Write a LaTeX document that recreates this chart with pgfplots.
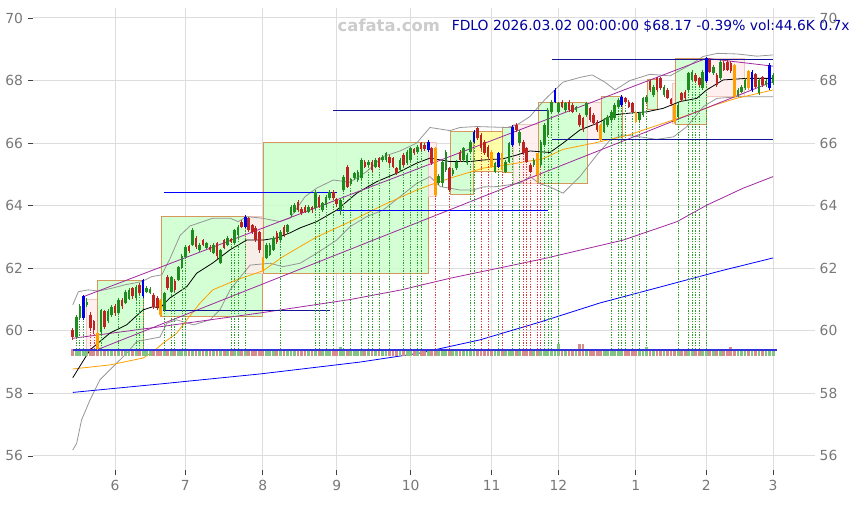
\documentclass[border=0pt]{standalone}
\usepackage{fontspec}
\setmainfont{DejaVu Sans}
\usepackage{pgfplots}
\pgfplotsset{compat=1.18}
\usepackage{pgfplotstable}

\definecolor{cgreen}{RGB}{30,140,30}
\definecolor{cred}{RGB}{190,35,35}
\definecolor{cblue}{RGB}{0,0,230}
\definecolor{corange}{RGB}{255,160,0}
\definecolor{vgreen}{RGB}{130,195,130}
\definecolor{vred}{RGB}{215,140,140}
\definecolor{boxgreen}{RGB}{204,255,204}
\definecolor{boxpink}{RGB}{255,236,236}
\definecolor{boxyellow}{RGB}{255,255,153}
\definecolor{boxedge}{RGB}{215,150,90}
\definecolor{pinkedge}{RGB}{240,200,190}
\definecolor{cpurple}{RGB}{160,40,160}
\definecolor{cgray}{RGB}{150,150,150}
\definecolor{cnavy}{RGB}{20,20,150}
\definecolor{titleblue}{RGB}{0,0,160}
\definecolor{gridgray}{RGB}{221,221,221}
\definecolor{labelgray}{RGB}{120,120,120}
\definecolor{dotgreen}{RGB}{40,160,40}
\definecolor{dotred}{RGB}{220,60,60}

\pgfplotsset{
  body/.style={draw=none, no markers, forget plot, error bars/.cd, y dir=plus, y explicit, error mark=none,
     error bar style={draw=#1, line width=1.95pt, line cap=butt, solid}},
  wick/.style={draw=none, no markers, forget plot, error bars/.cd, y dir=plus, y explicit, error mark=none,
     error bar style={draw=#1, line width=0.6pt, solid}},
  vol/.style={draw=none, no markers, forget plot, error bars/.cd, y dir=plus, y explicit, error mark=none,
     error bar style={draw=#1, line width=2.1pt, line cap=butt, solid}},
  vdot/.style={draw=none, no markers, forget plot, error bars/.cd, y dir=plus, y explicit, error mark=none,
     error bar style={draw=#1, line width=0.55pt, dash pattern=on 1pt off 1pt}},
  box/.style={fill=#1, draw=boxedge, line width=0.75pt, fill opacity=0.85, forget plot},
  pbox/.style={fill=boxpink, draw=pinkedge, line width=0.75pt, fill opacity=0.85, forget plot},
}

% green candles
\pgfplotstableread{
i O H L C V
-11 59.80 60.50 59.75 60.45 0.22
-10 60.40 60.85 60.35 60.80 0.22
-8 60.82 61.05 60.75 60.92 0.22
-4 59.95 60.70 59.90 60.65 0.22
-2 60.30 60.70 60.25 60.62 0.22
-1 60.50 60.82 60.45 60.76 0.22
1 60.57 61.05 60.50 61.00 0.22
3 60.90 61.30 60.85 61.25 0.22
4 61.02 61.38 60.98 61.32 0.22
6 61.05 61.45 61.00 61.40 0.22
9 61.25 61.42 61.20 61.37 0.22
10 61.22 61.40 61.18 61.34 0.22
14 60.68 61.25 60.62 61.20 0.22
16 61.25 61.76 61.20 61.72 0.22
18 61.63 62.08 61.58 62.04 0.22
19 62.01 62.44 61.96 62.40 0.22
20 62.37 62.73 62.32 62.69 0.22
22 62.75 63.28 62.70 63.22 0.22
24 62.58 62.80 62.52 62.75 0.22
26 62.65 62.85 62.60 62.80 0.22
28 62.49 62.80 62.44 62.75 0.22
30 62.17 62.62 62.12 62.58 0.22
32 62.75 63.02 62.70 62.97 0.22
34 62.81 63.27 62.76 63.22 0.22
35 63.06 63.38 63.01 63.33 0.22
43 62.33 62.80 62.28 62.75 0.22
44 62.43 62.80 62.38 62.75 0.22
45 62.59 63.02 62.54 62.97 0.22
47 62.90 63.22 62.85 63.17 0.22
49 63.17 63.43 63.12 63.38 0.22
50 63.70 64.02 63.65 63.97 0.22
51 63.81 64.07 63.76 64.02 0.22
55 63.81 64.02 63.76 63.97 0.22
57 63.92 64.50 63.87 64.45 0.22
59 63.86 64.13 63.80 64.08 0.22
60 64.02 64.34 63.97 64.29 0.22
61 64.24 64.50 64.19 64.45 0.22
64 63.86 64.23 63.70 64.18 0.28
65 64.50 64.98 64.45 64.93 0.22
67 64.70 64.90 64.65 64.85 0.22
68 64.88 65.09 64.83 65.04 0.22
69 64.82 65.14 64.77 65.09 0.22
70 64.88 65.51 64.83 65.46 0.22
72 65.30 65.45 65.25 65.40 0.22
74 65.25 65.51 65.20 65.46 0.22
76 65.46 65.62 65.41 65.57 0.22
77 65.46 65.73 65.41 65.68 0.22
81 65.14 65.51 65.09 65.46 0.22
83 65.36 65.78 65.31 65.73 0.22
84 65.46 65.89 65.41 65.84 0.22
86 65.73 65.94 65.68 65.89 0.22
92 64.72 65.00 64.67 64.95 0.22
93 64.72 65.46 64.60 65.41 0.22
94 65.14 65.78 65.09 65.73 0.22
96 65.00 65.20 64.95 65.15 0.22
97 65.20 65.46 65.15 65.41 0.22
99 65.46 65.89 65.41 65.84 0.22
100 65.36 65.67 65.31 65.62 0.22
101 65.73 66.10 65.68 66.05 0.22
108 65.09 65.41 65.04 65.36 0.22
111 65.09 65.46 65.04 65.41 0.22
112 65.41 66.05 65.36 66.00 0.22
115 65.99 66.42 65.94 66.37 0.22
119 65.30 65.51 65.25 65.46 0.22
121 65.30 66.10 65.25 66.05 0.22
122 65.94 66.63 65.89 66.58 0.22
123 66.26 67.11 66.21 67.06 0.22
124 67.01 67.38 66.96 67.33 0.22
126 67.01 67.32 66.96 67.27 0.38
128 67.06 67.32 67.01 67.27 0.22
131 67.05 67.20 67.00 67.15 0.22
134 66.90 67.32 66.85 67.27 0.22
139 66.37 66.79 66.32 66.74 0.22
140 66.58 66.90 66.53 66.85 0.22
141 66.74 67.06 66.69 67.01 0.22
142 66.80 67.27 66.75 67.22 0.22
143 67.17 67.43 67.12 67.38 0.22
149 66.74 67.01 66.69 66.96 0.22
150 66.90 67.48 66.85 67.43 0.22
151 67.33 67.53 67.28 67.48 0.28
153 67.54 67.86 67.49 67.81 0.22
156 67.54 67.86 67.49 67.81 0.22
160 66.85 67.27 66.80 67.22 0.22
163 67.70 68.28 67.65 68.23 0.22
164 68.02 68.33 67.97 68.28 0.22
167 67.75 68.33 67.70 68.28 0.22
170 68.23 68.49 68.18 68.44 0.22
172 68.07 68.65 68.02 68.60 0.22
177 67.54 67.75 67.49 67.70 0.22
178 67.65 67.86 67.60 67.81 0.22
179 67.75 68.07 67.70 68.02 0.22
183 67.59 68.07 67.54 68.02 0.22
185 67.85 68.05 67.80 68.00 0.22
187 67.91 68.23 67.86 68.17 0.22
}\tG

% red candles
\pgfplotstableread{
i O H L C V
-12 60.03 60.10 59.72 59.80 0.22
-7 60.50 60.60 60.00 60.10 0.22
-6 60.30 60.35 59.90 60.02 0.22
-3 60.62 60.68 60.05 60.12 0.22
0 60.78 60.85 60.48 60.56 0.22
2 61.00 61.05 60.70 60.78 0.22
5 61.36 61.40 61.02 61.10 0.22
7 61.47 61.52 61.15 61.20 0.22
11 61.15 61.20 60.70 60.75 0.22
12 61.05 61.10 60.68 60.75 0.22
15 61.72 61.78 61.30 61.38 0.22
17 61.60 61.65 61.25 61.30 0.22
21 62.70 62.75 62.48 62.55 0.22
23 62.97 63.02 62.62 62.68 0.22
25 62.90 62.95 62.70 62.75 0.22
27 62.69 62.74 62.52 62.58 0.22
29 62.80 62.84 62.30 62.40 0.22
31 62.90 62.95 62.60 62.65 0.22
33 62.92 62.97 62.80 62.85 0.22
36 63.49 63.54 63.28 63.33 0.22
38 63.60 63.65 63.15 63.22 0.22
39 63.38 63.42 63.10 63.17 0.22
40 63.29 63.34 62.85 62.90 0.22
41 63.17 63.20 62.50 62.59 0.22
46 63.13 63.18 62.78 62.84 0.22
48 63.33 63.38 63.00 63.06 0.22
52 64.13 64.18 63.80 63.86 0.22
53 63.90 63.95 63.70 63.75 0.22
54 63.97 64.02 63.76 63.81 0.22
56 63.95 64.00 63.78 63.85 0.22
58 64.29 64.34 63.92 63.97 0.22
62 64.45 64.50 64.19 64.24 0.22
63 64.20 64.25 63.95 64.05 0.22
66 65.25 65.30 64.55 64.61 0.22
71 65.41 65.46 65.20 65.25 0.22
73 65.41 65.46 65.09 65.14 0.22
75 65.52 65.57 65.20 65.25 0.22
78 65.57 65.62 65.31 65.36 0.22
79 65.52 65.57 65.20 65.25 0.22
80 65.20 65.25 64.99 65.04 0.22
82 65.62 65.67 65.25 65.30 0.22
85 65.80 65.85 65.63 65.68 0.22
87 66.00 66.05 65.75 65.80 0.22
88 65.95 66.00 65.75 65.80 0.22
90 65.84 65.89 65.31 65.36 0.22
95 65.20 65.25 64.45 64.50 0.22
98 65.73 65.78 65.41 65.46 0.22
103 66.47 66.52 66.10 66.15 0.22
104 66.26 66.31 65.79 65.84 0.22
105 66.05 66.10 65.63 65.68 0.22
106 65.89 65.94 65.52 65.57 0.22
114 66.58 66.63 66.37 66.42 0.22
116 66.05 66.10 65.63 65.68 0.22
117 65.84 65.89 65.36 65.41 0.22
118 65.30 65.35 65.04 65.09 0.22
127 67.33 67.38 67.12 67.17 0.22
129 67.33 67.38 67.01 67.06 0.22
130 67.22 67.27 66.96 67.01 0.22
132 66.90 66.95 66.53 66.58 0.38
133 66.80 66.85 66.37 66.45 0.38
135 67.11 67.16 66.69 66.74 0.22
136 66.90 66.95 66.58 66.63 0.22
137 66.69 66.74 66.37 66.42 0.22
145 67.43 67.48 67.28 67.33 0.22
146 67.33 67.38 67.12 67.17 0.22
147 67.27 67.32 66.96 67.01 0.22
152 67.97 68.02 67.65 67.70 0.22
154 68.07 68.12 67.65 67.70 0.22
155 68.07 68.12 67.70 67.75 0.22
157 67.70 67.75 67.40 67.45 0.22
158 67.40 67.45 67.20 67.25 0.22
161 67.59 67.64 67.33 67.38 0.22
162 67.65 67.70 67.38 67.43 0.22
165 68.18 68.23 67.92 67.97 0.22
166 68.07 68.12 67.81 67.86 0.22
169 68.66 68.71 68.23 68.28 0.22
171 68.18 68.23 67.81 67.86 0.22
173 68.55 68.62 68.30 68.35 0.22
174 68.60 68.65 68.29 68.34 0.22
175 68.55 68.62 68.25 68.30 0.28
182 68.20 68.25 67.75 67.80 0.22
184 68.10 68.15 67.80 67.85 0.22
}\tR

% blue (signal) candles
\pgfplotstableread{
i O H L C V
-9 60.40 61.15 60.35 61.10 0.22
8 61.10 61.66 61.05 61.62 0.22
37 63.33 63.70 63.28 63.65 0.22
89 65.78 66.10 65.73 66.05 0.22
102 66.05 66.42 66.00 66.37 0.22
109 65.25 65.73 65.20 65.68 0.22
113 65.94 66.58 65.89 66.53 0.22
125 67.33 67.75 67.28 67.70 0.22
144 67.22 67.53 67.17 67.48 0.22
168 67.97 68.76 67.92 68.71 0.22
181 67.70 68.33 67.65 68.28 0.22
186 67.75 68.55 67.70 68.50 0.22
}\tB

% orange (signal) candles
\pgfplotstableread{
i O H L C V
-5 59.92 59.95 59.40 59.42 0.22
13 61.00 61.02 60.45 60.50 0.22
42 62.33 62.36 61.90 61.95 0.22
91 65.84 65.86 64.30 64.34 0.22
107 65.73 65.78 65.20 65.25 0.22
110 65.68 65.70 65.10 65.15 0.22
120 65.68 65.70 64.72 64.98 0.22
138 66.58 66.60 66.08 66.10 0.22
148 67.01 67.03 66.65 66.69 0.22
159 67.22 67.24 66.65 66.69 0.22
176 68.50 68.52 67.45 67.48 0.22
180 68.30 68.35 67.70 67.75 0.22
}\tO

% dotted signal lines
\pgfplotstableread{
i lo hi
-11 59.42 59.75
-10 59.42 60.35
-9 59.42 60.35
-4 59.42 59.90
1 59.42 60.50
6 59.42 61.00
7 59.42 61.15
8 59.42 61.05
14 59.42 60.62
16 59.42 61.20
17 59.42 61.25
19 59.42 61.96
20 59.42 62.32
33 59.42 62.80
34 59.42 62.76
35 59.42 63.01
37 59.42 63.28
47 59.42 62.85
57 59.42 63.87
58 59.42 63.92
60 59.42 63.97
62 59.42 64.19
65 59.42 64.45
67 59.42 64.65
70 59.42 64.83
72 59.42 65.25
73 59.42 65.09
75 59.42 65.20
78 59.42 65.31
82 59.42 65.25
84 59.42 65.41
86 59.42 65.68
87 59.42 65.75
101 59.42 65.68
102 59.42 66.00
109 59.42 65.20
113 59.42 65.89
115 59.42 65.94
122 59.42 65.89
123 59.42 66.21
124 59.42 66.96
126 59.42 66.96
141 59.42 66.69
143 59.42 67.12
144 59.42 67.17
145 59.42 67.28
147 59.42 66.96
149 59.42 66.69
151 59.42 67.28
160 59.42 66.80
163 59.42 67.65
164 59.42 67.97
165 59.42 67.92
166 59.42 67.81
168 59.42 67.92
}\dG

\pgfplotstableread{
i lo hi
-7 59.42 60.00
-6 59.42 59.90
91 59.42 64.30
95 59.42 64.45
104 59.42 65.79
106 59.42 65.52
110 59.42 65.10
116 59.42 65.63
117 59.42 65.36
118 59.42 65.04
120 59.42 64.72
121 59.42 65.25
}\dR

\begin{document}
\begin{tikzpicture}
\begin{axis}[name=main, scale only axis, width=586.5pt, height=346.5pt,
  xmin=-23.3, xmax=198.9, ymin=55.55, ymax=70.32,
  axis x line*=bottom, axis y line*=left, axis line style={draw=none},
  xtick={0,20,42,63,84,107,126,148,168,187},
  xticklabels={6,7,8,9,10,11,12,1,2,3},
  ytick={56,58,...,70},
  tick align=outside, major tick length=4pt,
  tick style={black!75, line width=0.6pt},
  xmajorgrids, ymajorgrids, grid style={gridgray, line width=0.75pt},
  ticklabel style={font=\fontsize{10.4}{12}\selectfont, text=labelgray},
  /pgf/number format/assume math mode=true,
  clip mode=individual,
]
% zones
\addplot[pbox] coordinates {(-8.04,59.39) (-5.03,59.39) (-5.03,60.99) (-8.04,60.99)} -- cycle;
\addplot[box=boxgreen] coordinates {(-5.03,59.39) (8.04,59.39) (8.04,61.60) (-5.03,61.60)} -- cycle;
\addplot[box=boxgreen] coordinates {(13.27,60.45) (41.77,60.45) (41.77,63.65) (13.27,63.65)} -- cycle;
\addplot[pbox] coordinates {(36.94,61.84) (42.14,61.84) (42.14,63.65) (36.94,63.65)} -- cycle;
\addplot[box=boxgreen] coordinates {(42.14,61.84) (89.03,61.84) (89.03,66.02) (42.14,66.02)} -- cycle;
\addplot[pbox] coordinates {(89.03,64.29) (91.42,64.29) (91.42,66.02) (89.03,66.02)} -- cycle;
\addplot[box=boxgreen] coordinates {(95.2,64.37) (102.0,64.37) (102.0,66.37) (95.2,66.37)} -- cycle;
\addplot[box=boxyellow] coordinates {(102.0,65.09) (110.1,65.09) (110.1,66.37) (102.0,66.37)} -- cycle;
\addplot[box=boxgreen] coordinates {(110.1,65.06) (113.2,65.06) (113.2,66.50) (110.1,66.50)} -- cycle;
\addplot[pbox] coordinates {(113.2,64.72) (120.3,64.72) (120.3,66.60) (113.2,66.60)} -- cycle;
\addplot[box=boxgreen] coordinates {(120.3,64.72) (134.3,64.72) (134.3,67.30) (120.3,67.30)} -- cycle;
\addplot[pbox] coordinates {(134.3,66.10) (138.3,66.10) (138.3,67.30) (134.3,67.30)} -- cycle;
\addplot[box=boxgreen] coordinates {(138.3,66.10) (144.2,66.10) (144.2,67.48) (138.3,67.48)} -- cycle;
\addplot[box=boxgreen] coordinates {(151.3,67.08) (154.1,67.08) (154.1,68.04) (151.3,68.04)} -- cycle;
\addplot[pbox] coordinates {(158.4,66.63) (159.3,66.63) (159.3,67.89) (158.4,67.89)} -- cycle;
\addplot[box=boxgreen] coordinates {(159.3,66.60) (168.1,66.60) (168.1,68.71) (159.3,68.71)} -- cycle;
\addplot[pbox] coordinates {(168.1,67.48) (179.0,67.48) (179.0,68.71) (168.1,68.71)} -- cycle;

% bands (gray)
\addplot[cgray, line width=0.6pt, forget plot] coordinates {(-12,60.83) (-10.4,61.25) (-7.6,61.31) (-4.7,61.27) (-0.9,61.36) (2.8,61.47) (7.6,61.57) (10.4,61.73) (13.3,61.79) (15.6,62.30) (18.5,63.05) (21.3,63.35) (27.8,63.60) (32.7,63.60) (35.0,63.49) (37.4,63.65) (41.8,63.60) (46.9,63.49) (49.7,63.60) (54.0,64.29) (57.3,64.56) (62.0,64.82) (66.8,64.75) (71.5,65.09) (76.2,65.57) (81.0,65.75) (85.7,66.00) (89.5,66.50) (95.2,66.40) (98.0,66.50) (102.8,66.53) (111.3,66.50) (114.2,66.58) (117.9,66.85) (122.2,67.40) (127.3,67.95) (132.1,68.10) (135.6,68.18) (139.2,67.95) (142.1,67.70) (146.3,68.00) (152.0,68.20) (157.7,68.15) (163.4,68.50) (167.1,68.77) (171.1,68.87) (176.8,68.85) (182.4,68.78) (187,68.82)};
\addplot[cgray, line width=0.6pt, forget plot] coordinates {(-12,56.19) (-10.9,56.40) (-9.5,57.15) (-7.1,57.79) (-4.3,58.43) (-0.5,58.86) (3.3,59.28) (6.2,59.66) (10.9,59.76) (12.8,59.80) (14.7,60.24) (17.5,60.35) (22.3,60.19) (27.0,60.35) (29.8,60.67) (32.7,61.31) (36.5,61.84) (38.4,62.10) (44.0,62.16) (47.7,62.05) (52.6,62.16) (57.3,62.48) (63.0,62.90) (66.8,63.33) (71.5,63.65) (76.2,63.86) (81.0,64.29) (85.7,64.71) (89.5,64.93) (92.4,64.61) (95.2,64.56) (98.0,64.50) (101.7,64.50) (104.6,64.60) (108.6,64.61) (115.1,64.72) (117.9,64.93) (120.8,64.70) (123.6,64.60) (127.3,64.40) (132.1,64.93) (136.9,65.62) (140.7,66.10) (144.4,66.26) (149.2,66.20) (153.9,66.12) (158.7,66.20) (162.5,66.53) (167.2,67.17) (171.0,67.43) (176.7,67.48) (187,67.48)};

% moving averages
\addplot[blue, line width=0.6pt, forget plot] coordinates {(-12,58.03) (12.8,58.30) (41.2,58.62) (69.6,59.00) (86.7,59.29) (103.7,59.71) (120.8,60.28) (137.8,60.89) (154.9,61.40) (171.9,61.91) (187,62.33)};
\addplot[cpurple, line width=0.6pt, forget plot] coordinates {(-12,59.76) (12.8,60.13) (41.2,60.57) (66.8,61.00) (81,61.30) (95.2,61.68) (108,61.98) (121.6,62.30) (144.4,62.90) (159.7,63.49) (168.2,64.02) (178.5,64.56) (187,64.93)};
\addplot[corange, line width=0.6pt, forget plot] coordinates {(-12,58.78) (-1.4,58.91) (8.0,59.13) (10.8,59.33) (13.6,59.60) (17.5,59.92) (20.4,60.35) (24.2,60.89) (27.8,61.31) (34.6,61.63) (42.1,61.92) (47.7,62.37) (57.3,63.00) (66.8,63.49) (76.2,64.02) (85.7,64.50) (89.5,64.66) (95.2,64.88) (104.6,65.20) (114.2,65.36) (121.6,65.50) (127.3,65.80) (136.1,66.00) (145.7,66.25) (153.6,66.55) (163.4,66.92) (169.9,67.20) (176.5,67.43) (187,67.70)};
\addplot[black, line width=0.6pt, forget plot] coordinates {(-12,58.50) (-7.1,59.39) (-1.4,59.93) (3.3,60.19) (8.0,60.67) (10.8,60.77) (12.8,60.73) (15.6,61.05) (20.4,61.41) (23.2,61.84) (27.8,62.17) (32.7,62.59) (37.4,62.90) (42.1,62.90) (46.0,62.97) (49.7,63.13) (52.6,63.29) (57.3,63.49) (63.0,63.86) (68.7,64.40) (74.4,64.77) (80.1,65.04) (85.7,65.36) (89.5,65.52) (95.2,65.41) (100.9,65.41) (104.6,65.46) (110.3,65.50) (114.2,65.62) (117.9,65.75) (123.6,65.70) (127.3,66.00) (132.1,66.42) (136.9,66.63) (141.5,66.90) (146.3,66.96) (151.1,67.00) (155.7,67.11) (160.6,67.33) (165.3,67.43) (168.1,67.70) (172.8,68.02) (179.5,68.07) (187,68.07)};

% trend channel lines
\addplot[cpurple, line width=0.6pt, forget plot] coordinates {(-9.0,61.09) (168.1,68.71)};
\addplot[cpurple, line width=0.6pt, forget plot] coordinates {(-5.2,59.39) (187,67.97)};
\addplot[cpurple, line width=0.6pt, forget plot] coordinates {(168.1,68.71) (187,68.46)};

% support / resistance levels
\addplot[blue, line width=0.6pt, forget plot] coordinates {(13.9,64.43) (63.1,64.43)};
\addplot[cnavy, line width=0.6pt, forget plot] coordinates {(13.6,60.64) (61.1,60.64)};
\addplot[blue, line width=0.6pt, forget plot] coordinates {(63.1,63.86) (123.0,63.86)};
\addplot[cnavy, line width=0.6pt, forget plot] coordinates {(62.0,67.03) (123.0,67.03)};
\addplot[cnavy, line width=0.6pt, forget plot] coordinates {(124.2,68.69) (187,68.69)};
\addplot[cnavy, line width=0.6pt, forget plot] coordinates {(124.2,66.13) (187,66.13)};

% dotted signal lines
\addplot[vdot=dotgreen] table[x=i, y=lo, y error plus expr=\thisrow{hi}-\thisrow{lo}] {\dG};
\addplot[vdot=dotred] table[x=i, y=lo, y error plus expr=\thisrow{hi}-\thisrow{lo}] {\dR};

% volume strip
\addplot[vol=vgreen] table[x=i, y expr=59.2, y error plus=V] {\tG};
\addplot[vol=vgreen] table[x=i, y expr=59.2, y error plus=V] {\tB};
\addplot[vol=vred] table[x=i, y expr=59.2, y error plus=V] {\tR};
\addplot[vol=vred] table[x=i, y expr=59.2, y error plus=V] {\tO};
\addplot[color={rgb,255:red,50;green,50;blue,220}, line width=1.1pt, forget plot] coordinates {(-12,59.39) (188,59.39)};

% candles
\addplot[wick=cgreen] table[x=i, y=L, y error plus expr=\thisrow{H}-\thisrow{L}] {\tG};
\addplot[body=cgreen] table[x=i, y=O, y error plus expr=\thisrow{C}-\thisrow{O}] {\tG};
\addplot[wick=cred] table[x=i, y=L, y error plus expr=\thisrow{H}-\thisrow{L}] {\tR};
\addplot[body=cred] table[x=i, y=C, y error plus expr=\thisrow{O}-\thisrow{C}] {\tR};
\addplot[wick=cblue] table[x=i, y=L, y error plus expr=\thisrow{H}-\thisrow{L}] {\tB};
\addplot[body=cblue] table[x=i, y=O, y error plus expr=\thisrow{C}-\thisrow{O}] {\tB};
\addplot[wick=corange] table[x=i, y=L, y error plus expr=\thisrow{H}-\thisrow{L}] {\tO};
\addplot[body=corange] table[x=i, y=C, y error plus expr=\thisrow{O}-\thisrow{C}] {\tO};

% texts
\node[font=\fontsize{12.3}{14}\selectfont\bfseries, text=black!20] at (rel axis cs:0.455,0.963) {cafata.com};
\node[anchor=east, font=\fontsize{10.4}{12}\selectfont, text=titleblue, inner sep=0pt] at (rel axis cs:1.0448,0.961) {FDLO 2026.03.02 00:00:00 \$68.17 -0.39\% vol:44.6K 0.7x};
\end{axis}

\begin{axis}[at={(main.south west)}, anchor=south west, scale only axis, width=586.5pt, height=346.5pt,
  xmin=-23.3, xmax=198.9, ymin=55.55, ymax=70.32,
  axis y line*=right, axis x line=none, axis line style={draw=none},
  ytick={56,58,...,70}, ytick style={draw=none},
  yticklabel style={font=\fontsize{10.4}{12}\selectfont, text=labelgray},
  /pgf/number format/assume math mode=true,
]
\addplot[draw=none, forget plot] coordinates {(0,60)};
\end{axis}

\pgfresetboundingbox
\path ([xshift=-24.75pt, yshift=-26.25pt]main.south west) rectangle ([xshift=33.75pt, yshift=6pt]main.north east);
\end{tikzpicture}
\end{document}
